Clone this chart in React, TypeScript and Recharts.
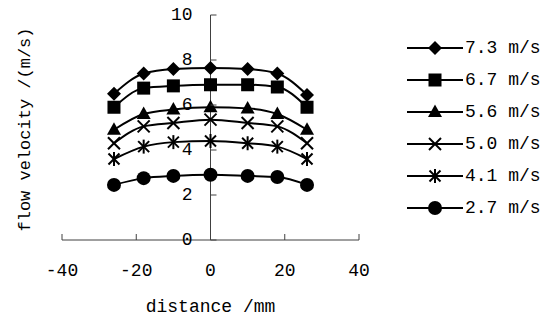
import React from "react";
import {
  Legend,
  Line,
  LineChart,
  ReferenceLine,
  XAxis,
  YAxis,
} from "recharts";

// measured positions across the pipe (mm)
const DISTANCES = [-26, -18, -10, 0, 10, 18, 26];

const v73 = [6.5, 7.4, 7.6, 7.65, 7.6, 7.4, 6.45];
const v67 = [5.9, 6.75, 6.85, 6.9, 6.9, 6.8, 5.9];
const v56 = [4.9, 5.6, 5.8, 5.9, 5.85, 5.6, 4.9];
const v50 = [4.3, 5.05, 5.2, 5.35, 5.2, 5.05, 4.3];
const v41 = [3.6, 4.15, 4.35, 4.4, 4.3, 4.15, 3.6];
const v27 = [2.45, 2.75, 2.85, 2.9, 2.85, 2.8, 2.45];

const X_TICKS = [-40, -20, 0, 20, 40];
const Y_TICKS = [0, 2, 4, 6, 8, 10];

type Shape = "diamond" | "square" | "triangle" | "cross" | "star" | "circle";

const SERIES: { key: string; name: string; shape: Shape; values: number[] }[] = [
  { key: "s73", name: "7.3 m/s", shape: "diamond", values: v73 },
  { key: "s67", name: "6.7 m/s", shape: "square", values: v67 },
  { key: "s56", name: "5.6 m/s", shape: "triangle", values: v56 },
  { key: "s50", name: "5.0 m/s", shape: "cross", values: v50 },
  { key: "s41", name: "4.1 m/s", shape: "star", values: v41 },
  { key: "s27", name: "2.7 m/s", shape: "circle", values: v27 },
];

const data = DISTANCES.map((d, i) => {
  const row: Record<string, number> = { distance: d };
  SERIES.forEach((s) => {
    row[s.key] = s.values[i];
  });
  return row;
});

const FONT = '"Liberation Mono", "DejaVu Sans Mono", monospace';
const AXIS = "#404040";

const W = 550;
const H = 320;
const PLOT_LEFT = 62;
const PLOT_RIGHT = 359;
const ZERO_X = (PLOT_LEFT + PLOT_RIGHT) / 2;
const LEGEND_W = 145;

function marker(shape: Shape, cx: number, cy: number, key?: string | number) {
  switch (shape) {
    case "diamond":
      return (
        <polygon key={key} points={`${cx},${cy - 7} ${cx + 7},${cy} ${cx},${cy + 7} ${cx - 7},${cy}`} fill="#000" />
      );
    case "square":
      return <rect key={key} x={cx - 6.5} y={cy - 6.5} width={13} height={13} fill="#000" />;
    case "triangle":
      return (
        <polygon key={key} points={`${cx},${cy - 7.5} ${cx + 7},${cy + 5} ${cx - 7},${cy + 5}`} fill="#000" />
      );
    case "cross":
      return (
        <g key={key} stroke="#000" strokeWidth={2}>
          <line x1={cx - 6} y1={cy - 6} x2={cx + 6} y2={cy + 6} />
          <line x1={cx - 6} y1={cy + 6} x2={cx + 6} y2={cy - 6} />
        </g>
      );
    case "star":
      return (
        <g key={key} stroke="#000" strokeWidth={2}>
          <line x1={cx - 5.5} y1={cy - 5.5} x2={cx + 5.5} y2={cy + 5.5} />
          <line x1={cx - 5.5} y1={cy + 5.5} x2={cx + 5.5} y2={cy - 5.5} />
          <line x1={cx} y1={cy - 7} x2={cx} y2={cy + 7} />
        </g>
      );
    default:
      return <circle key={key} cx={cx} cy={cy} r={7} fill="#000" />;
  }
}

const YTick = (props: any) => {
  const { y, payload } = props;
  return (
    <g>
      <line x1={ZERO_X} x2={ZERO_X + 6} y1={y} y2={y} stroke={AXIS} />
      <text
        x={ZERO_X - 18}
        y={y}
        textAnchor="end"
        dominantBaseline="central"
        fontFamily={FONT}
        fontSize={18}
        fill="#000"
      >
        {payload.value}
      </text>
    </g>
  );
};

const YLabel = (props: any) => {
  const { viewBox } = props;
  const x = 25;
  const y = viewBox.y + viewBox.height / 2 + 2;
  return (
    <text
      x={x}
      y={y}
      transform={`rotate(-90, ${x}, ${y})`}
      textAnchor="middle"
      dominantBaseline="central"
      fontFamily={FONT}
      fontSize={17}
      fill="#000"
    >
      flow velocity /(m/s)
    </text>
  );
};

const LegendContent = () => (
  <div>
    {SERIES.map((s) => (
      <div key={s.key} style={{ display: "flex", alignItems: "center", height: 32 }}>
        <svg width={58} height={32} style={{ display: "block" }}>
          <line x1={0} x2={56} y1={16} y2={16} stroke="#000" strokeWidth={2} />
          {marker(s.shape, 28, 16)}
        </svg>
        <span style={{ fontFamily: FONT, fontSize: 18, color: "#000", whiteSpace: "nowrap" }}>{s.name}</span>
      </div>
    ))}
  </div>
);

export default function App() {
  return (
    <div style={{ position: "absolute", left: 0, top: 0, width: W, height: H, background: "#fff" }}>
      <LineChart
        width={W}
        height={H}
        data={data}
        margin={{ top: 15, right: W - PLOT_RIGHT - LEGEND_W, bottom: 0, left: 0 }}
      >
        <XAxis
          dataKey="distance"
          type="number"
          domain={[-40, 40]}
          ticks={X_TICKS}
          height={80}
          stroke={AXIS}
          tickSize={-6}
          tickMargin={29}
          tick={{ fontFamily: FONT, fontSize: 18, fill: "#000" }}
          label={{
            value: "distance /mm",
            position: "insideBottom",
            offset: 8,
            style: { fontFamily: FONT, fontSize: 18, fill: "#000" },
          }}
        />
        <YAxis
          type="number"
          domain={[0, 10]}
          ticks={Y_TICKS}
          width={PLOT_LEFT}
          axisLine={false}
          tickLine={false}
          tick={<YTick />}
          label={<YLabel />}
        />
        <ReferenceLine x={0} stroke={AXIS} ifOverflow="extendDomain" />
        <Legend
          layout="vertical"
          align="right"
          verticalAlign="top"
          content={<LegendContent />}
          wrapperStyle={{ left: 407, top: 32, width: LEGEND_W }}
        />
        {SERIES.map((s) => (
          <Line
            key={s.key}
            dataKey={s.key}
            name={s.name}
            type="monotone"
            stroke="#000"
            strokeWidth={2}
            isAnimationActive={false}
            dot={(p: any) => marker(s.shape, p.cx, p.cy, `${s.key}-${p.index}`)}
          />
        ))}
      </LineChart>
    </div>
  );
}
